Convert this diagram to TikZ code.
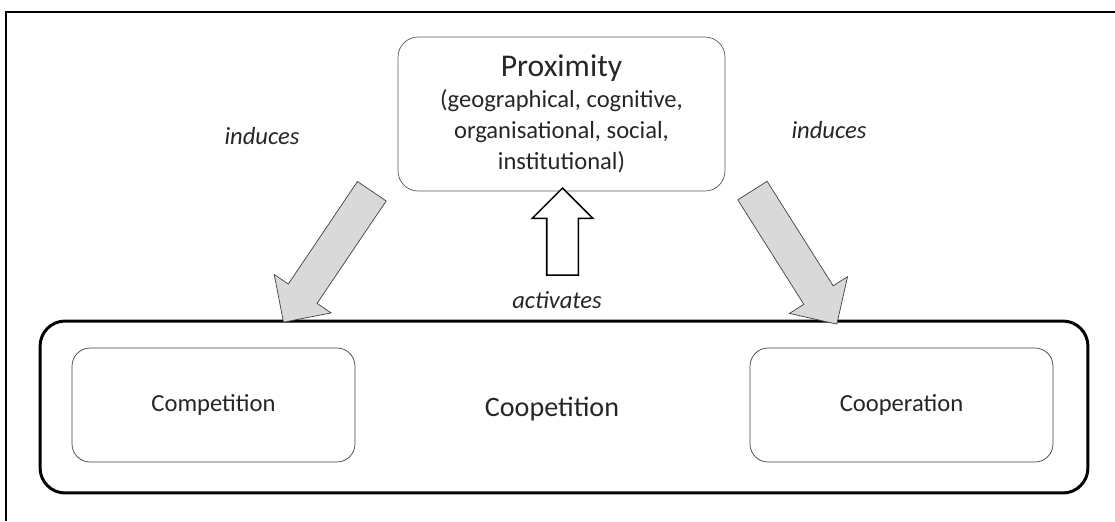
\documentclass[tikz,border=0pt]{standalone}
\usepackage{fontspec}
\setmainfont{Carlito}
\usetikzlibrary{shapes.arrows}
\definecolor{txtgray}{HTML}{262626}
\definecolor{arrowfill}{HTML}{D9D9D9}
\definecolor{arrowline}{HTML}{404040}
\tikzstyle{proxnode} = [draw=black!65, rounded corners=0.4cm, minimum width=6.54cm, minimum height=3.08cm, align=center, text=txtgray, font=\fontsize{14}{17.6}\selectfont]
\tikzstyle{coopnode} = [draw, line width=1.7pt, rounded corners=0.5cm, minimum width=20.96cm, minimum height=3.44cm]
\tikzstyle{innernode} = [draw=black!75, rounded corners=0.36cm, minimum height=2.28cm, text=txtgray, font=\fontsize{14}{17}\selectfont]
\tikzstyle{fatarrow} = [draw=arrowline, fill=arrowfill, single arrow, inner xsep=0, inner ysep=0.34cm, minimum height=3.16cm, single arrow head extend=0.34cm]
\tikzstyle{uparrow} = [draw, line width=0.9pt, fill=white, single arrow, inner xsep=0, inner ysep=0.3cm, minimum height=1.74cm, single arrow head extend=0.29cm, rotate=90]
\tikzstyle{edgelabel} = [text=txtgray, font=\fontsize{14}{17}\selectfont\itshape]

\begin{document}
\begin{tikzpicture}[x=0.02cm, y=-0.02cm]
    \useasboundingbox (0,0) rectangle (1115,521);
    % frame
    \draw[line width=1.1pt] (6,521) -- (6,12) -- (1115,12);

    \node[proxnode] (prox) at (561.5,114) {{\fontsize{18}{22}\selectfont Proximity}\\(geographical, cognitive,\\organisational, social,\\institutional)};

    \node[coopnode] (coop) at (564,407) {};
    \node[text=txtgray, font=\fontsize{16}{19}\selectfont] (coop_label) at (552,409) {Coopetition};
    \node[innernode, minimum width=5.66cm] (compet) at (213.5,405) {Competition};
    \node[innernode, minimum width=6.06cm] (cooper) at (901.5,405) {Cooperation};

    \node[fatarrow, rotate=236] (left_arrow) at (332.5,249.5) {};
    \node[fatarrow, rotate=302.3] (right_arrow) at (790,250) {};
    \node[uparrow] (up_arrow) at (562.5,239.5) {};

    \node[edgelabel] (left_label) at (262,136) {induces};
    \node[edgelabel] (right_label) at (829,130) {induces};
    \node[edgelabel] (up_label) at (557,300) {activates};
\end{tikzpicture}
\end{document}
